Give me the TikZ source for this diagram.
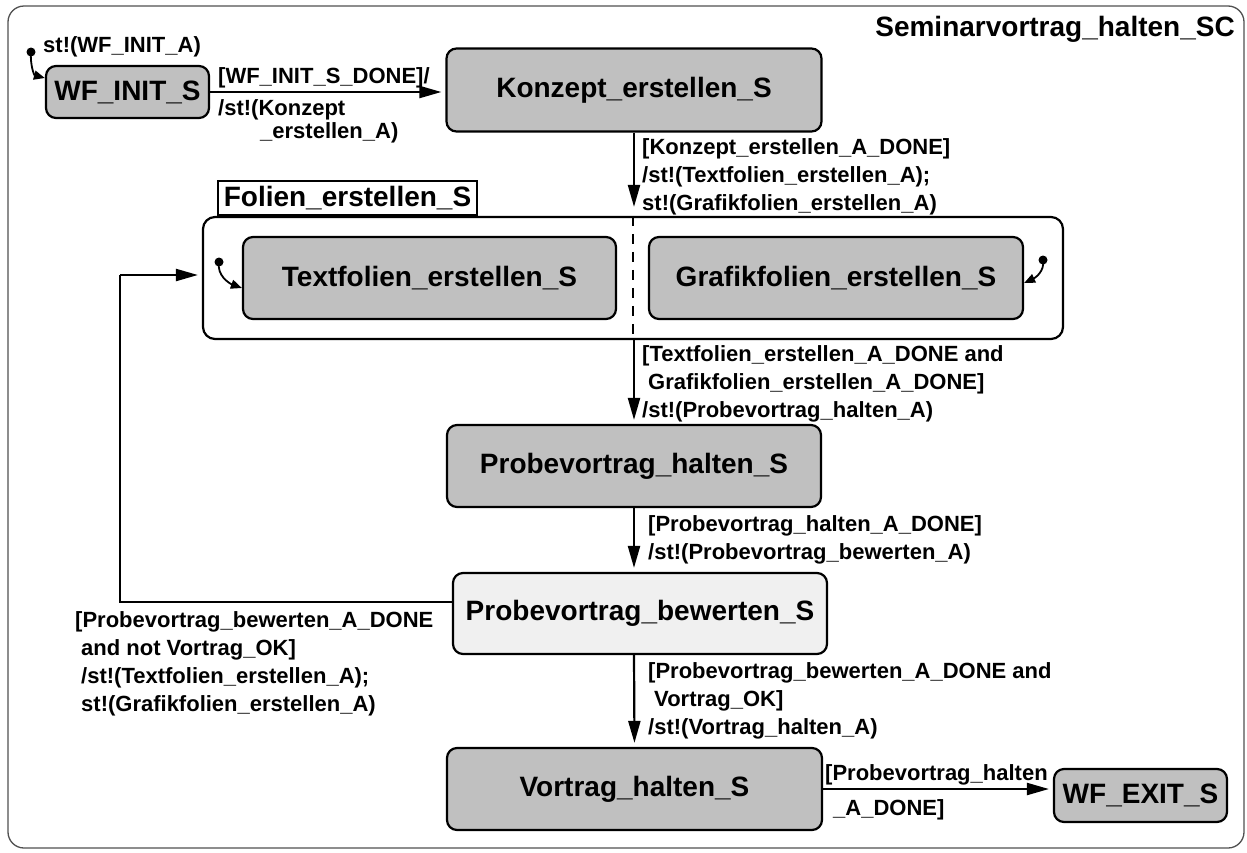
\documentclass[tikz,border=0pt]{standalone}
\usepackage{fontspec}
\setmainfont{Liberation Sans}
\usetikzlibrary{arrows.meta}
\definecolor{stategray}{RGB}{192,192,192}
\definecolor{statelight}{RGB}{240,240,240}
\definecolor{framegray}{RGB}{80,80,80}
\newcommand\statefont{\fontsize{28}{34}\selectfont\bfseries}
\newcommand\lblfont{\fontsize{22}{28}\selectfont\bfseries}
\begin{document}
\begin{tikzpicture}[x=1pt,y=-1pt,
  state/.style={draw=black, line width=2.2pt, rounded corners=10pt, fill=stategray,
    inner sep=0pt, font=\statefont},
  lightstate/.style={state, fill=statelight},
  region/.style={draw=black, line width=2.2pt, rounded corners=12pt, fill=white, inner sep=0pt},
  headbox/.style={draw=black, line width=2.2pt, fill=white, inner sep=0pt, font=\statefont},
  lbl/.style={anchor=base west, inner sep=0pt, align=left, font=\lblfont},
  arr/.style={line width=2.2pt, -{Triangle[length=22pt,width=12pt]}, shorten >=4pt},
  initarr/.style={line width=1.8pt, -{Triangle[length=11pt,width=9pt]}},
  initdot/.style={fill=black}
]
\useasboundingbox (0,0) rectangle (1247,852);

% chart frame and its name
\draw[framegray, line width=1.3pt, rounded corners=16pt] (8,6) rectangle (1244,848);
\node[anchor=base east, inner sep=0pt, font=\statefont] (title) at (1235,36) {Seminarvortrag\_halten\_SC};

% states
\node[state, minimum width=163pt, minimum height=52pt] (init) at (127.5,92) {WF\_INIT\_S};
\node[state, minimum width=375pt, minimum height=83pt] (konzept) at (634,90) {Konzept\_erstellen\_S};

% composite state with two concurrent regions
\node[region, minimum width=860pt, minimum height=122pt] (folien) at (633,278) {};
\node[headbox, minimum width=259pt, minimum height=34pt] (fhead) at (347.5,198) {Folien\_erstellen\_S};
\node[state, minimum width=373pt, minimum height=82pt] (tfolien) at (429.5,278) {Textfolien\_erstellen\_S};
\node[state, minimum width=374pt, minimum height=82pt] (gfolien) at (836,278) {Grafikfolien\_erstellen\_S};
\draw[line width=2.2pt, dash pattern=on 10pt off 8pt] (folien.north) -- (folien.south);

\node[state, minimum width=374pt, minimum height=82pt] (phalten) at (634,466) {Probevortrag\_halten\_S};
\node[lightstate, minimum width=374pt, minimum height=81pt] (pbew) at (640,613.5) {Probevortrag\_bewerten\_S};
\node[state, minimum width=375pt, minimum height=82pt] (vortrag) at (634.5,789) {Vortrag\_halten\_S};
\node[state, minimum width=173pt, minimum height=53pt] (exit) at (1140.5,795.5) {WF\_EXIT\_S};

% initial pseudostates
\coordinate (i0) at (31,52);
\coordinate (i1) at (219,262);
\coordinate (i2) at (1043,260);
\fill[initdot] (i0) circle (4.5pt);
\fill[initdot] (i1) circle (4.5pt);
\fill[initdot] (i2) circle (4.5pt);
\draw[initarr] (i0) to[out=-95, in=165] (init.north west |- 0,78);
\draw[initarr] (i1) to[out=-100, in=160] (tfolien.west |- 0,288);
\draw[initarr] (i2) to[out=-80, in=25] (gfolien.east |- 0,283);

% transitions
\draw[arr] (init.east) -- (init.east -| konzept.west);
\draw[arr, shorten >=9pt] (konzept.south) -- (konzept.south |- folien.north);
\draw[arr] (konzept.south |- folien.south) -- (phalten.north);
\draw[arr] (phalten.south) -- (phalten.south |- pbew.north);
\draw[arr] (phalten.south |- pbew.south) -- (vortrag.north);
\draw[arr] (vortrag.east) -- (vortrag.east -| exit.west);
\coordinate (lq) at (120,602);
\coordinate (lp) at (120,275);
\draw[line width=2.2pt] (lq -| pbew.west) -- (lq) -- (lp);
\draw[arr] (lp) -- (lp -| folien.west);

% transition labels (anchored at the baseline of their last line)
\node[lbl] (l0) at (43,52) {st!(WF\_INIT\_A)};
\node[lbl] (l1) at (218,83) {[WF\_INIT\_S\_DONE]/};
\node[lbl] (l2) at (218,138) {/st!(Konzept\\[-5pt]\hspace{42pt}\_erstellen\_A)};
\node[lbl] (l3) at (642,210) {[Konzept\_erstellen\_A\_DONE]\\/st!(Textfolien\_erstellen\_A);\\st!(Grafikfolien\_erstellen\_A)};
\node[lbl] (l4) at (642,417) {[Textfolien\_erstellen\_A\_DONE and\\\hspace{6pt}Grafikfolien\_erstellen\_A\_DONE]\\/st!(Probevortrag\_halten\_A)};
\node[lbl] (l5) at (648,559) {[Probevortrag\_halten\_A\_DONE]\\/st!(Probevortrag\_bewerten\_A)};
\node[lbl] (l6) at (648,734) {[Probevortrag\_bewerten\_A\_DONE and\\\hspace{6pt}Vortrag\_OK]\\/st!(Vortrag\_halten\_A)};
\node[lbl] (l7) at (75,711) {[Probevortrag\_bewerten\_A\_DONE\\\hspace{6pt}and not Vortrag\_OK]\\\hspace{6pt}/st!(Textfolien\_erstellen\_A);\\\hspace{6pt}st!(Grafikfolien\_erstellen\_A)};
\node[lbl] (l8) at (825,815) {[Probevortrag\_halten\\[7pt]\hspace{8pt}\_A\_DONE]};
\end{tikzpicture}
\end{document}
